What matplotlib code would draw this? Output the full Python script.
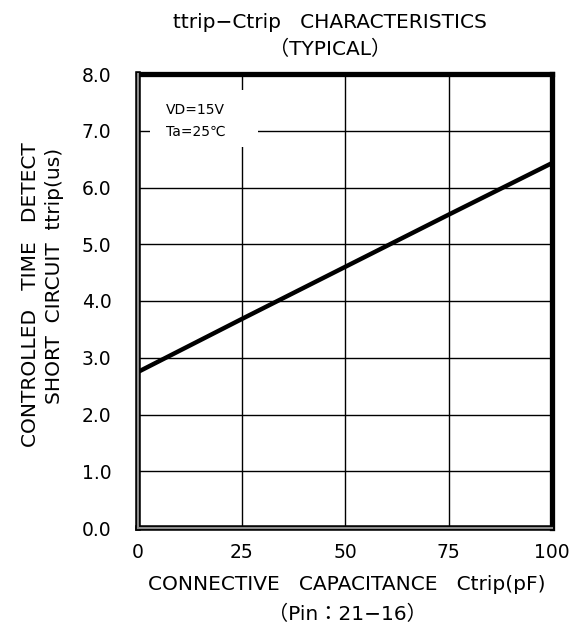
import numpy as np
import matplotlib
matplotlib.use("Agg")
import matplotlib.pyplot as plt
from matplotlib.patches import Rectangle

plt.rcParams["font.family"] = ["DejaVu Sans", "Noto Sans CJK JP"]

# data
ctrip = [0, 25, 50, 75, 100]
ttrip = [2.75, 3.68, 4.60, 5.52, 6.43]
x_ticks = [0, 25, 50, 75, 100]
y_ticks = [0.0, 1.0, 2.0, 3.0, 4.0, 5.0, 6.0, 7.0, 8.0]
y_ticklabels = ["0.0", "1.0", "2.0", "3.0", "4.0", "5.0", "6.0", "7.0", "8.0"]

fig = plt.figure(figsize=(5.69, 6.24), dpi=100)
ax = fig.add_axes([138 / 569, 1 - 528 / 624, 414 / 569, 454 / 624])

ax.set_xlim(0, 100)
ax.set_ylim(0, 8)
ax.set_xticks(x_ticks)
ax.set_yticks(y_ticks)
ax.set_xticklabels([str(v) for v in x_ticks], fontsize=13.5)
ax.set_yticklabels(y_ticklabels, fontsize=13.5)
ax.tick_params(axis="x", length=0, pad=11)
ax.tick_params(axis="y", length=0, pad=19)
ax.grid(True, color="black", lw=1.0)
ax.set_axisbelow(True)

ax.plot(ctrip, ttrip, color="black", lw=3.2, zorder=3)

# frame: heavy top/right, double line on left/bottom
for side in ["top", "right"]:
    ax.spines[side].set_linewidth(3.8)
for side in ["left", "bottom"]:
    ax.spines[side].set_linewidth(4.0)
ax.axvline(0, color="#8c8c8c", lw=1.5, zorder=4, clip_on=False)
ax.axhline(0, color="#8c8c8c", lw=1.5, zorder=4, clip_on=False)

# condition box
ax.add_patch(Rectangle((0.029, 0.839), 0.261, 0.126, transform=ax.transAxes,
                       facecolor="white", edgecolor="none", zorder=2))
ax.text(0.068, 0.92, "VD=15V", transform=ax.transAxes, fontsize=10, va="center", zorder=5)
ax.text(0.068, 0.872, "Ta=25℃", transform=ax.transAxes, fontsize=10, va="center", zorder=5)

fig.text(330 / 569, 1 - 22 / 624, "ttrip−Ctrip   CHARACTERISTICS", ha="center", va="center", fontsize=14.5)
fig.text(330 / 569, 1 - 49 / 624, "（TYPICAL）", ha="center", va="center", fontsize=14.5)

fig.text(347 / 569, 1 - 585 / 624, "CONNECTIVE   CAPACITANCE   Ctrip(pF)", ha="center", va="center", fontsize=14.5)
fig.text(347 / 569, 1 - 614 / 624, "（Pin：21−16）", ha="center", va="center", fontsize=14.5)

fig.text(31 / 569, 1 - 295 / 624, "CONTROLLED   TIME   DETECT", rotation=90, ha="center", va="center", fontsize=14.5)
fig.text(55 / 569, 1 - 276 / 624, "SHORT  CIRCUIT  ttrip(us)", rotation=90, ha="center", va="center", fontsize=14.5)

fig.savefig("out.png", dpi=100)
